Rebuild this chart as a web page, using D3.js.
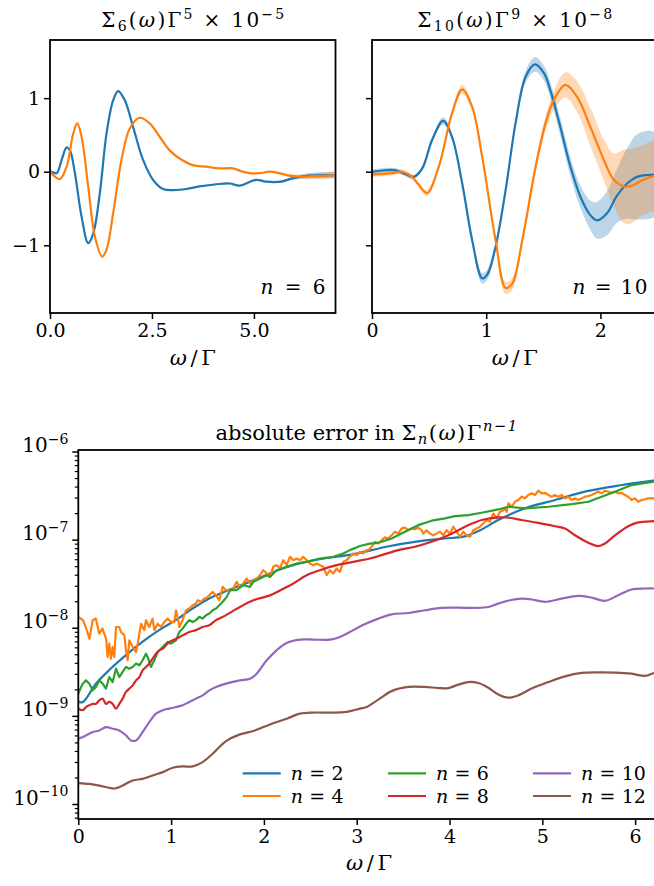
<!DOCTYPE html>
<html><head><meta charset="utf-8">
<script src="https://cdn.jsdelivr.net/npm/d3@7"></script>
<style>
body{margin:0;background:#fff;}
</style></head><body>
<script>
// ---------- data ----------
const colors = ["#1f77b4","#ff7f0e","#2ca02c","#d62728","#9467bd","#8c564b"];

// Sigma_6 * Gamma^5 (x1e-5): [omega/Gamma, value, band half-width]
const sigma6A = [[0,0,0.01],[0.04,0,0.01],[0.163,-0.02,0.01],[0.285,0.16,0.01],[0.408,0.33,0.01],[0.489,0.29,0.01],[0.611,-0.02,0.01],[0.774,-0.61,0.01],[0.937,-0.97,0.01],[1.06,-0.84,0.01],[1.222,-0.29,0.01],[1.386,0.52,0.01],[1.548,0.97,0.01],[1.67,1.095,0.01],[1.834,0.97,0.01],[2.037,0.61,0.01],[2.282,0.16,0.01],[2.526,-0.11,0.01],[2.771,-0.235,0.01],[3.015,-0.25,0.01],[3.341,-0.235,0.01],[3.667,-0.2,0.01],[4.075,-0.17,0.01],[4.401,-0.16,0.01],[4.645,-0.19,0.01],[4.849,-0.15,0.01],[5.053,-0.11,0.01],[5.297,-0.135,0.01],[5.664,-0.135,0.015],[5.949,-0.09,0.02],[6.357,-0.054,0.035],[6.968,-0.045,0.045]];
const sigma6B = [[0,0,0.01],[0.122,-0.067,0.01],[0.245,-0.1,0.01],[0.408,0.068,0.01],[0.57,0.52,0.01],[0.668,0.656,0.01],[0.774,0.475,0.01],[0.937,-0.2,0.01],[1.1,-0.88,0.01],[1.28,-1.153,0.01],[1.386,-1.06,0.01],[1.548,-0.565,0.01],[1.752,0.16,0.01],[1.956,0.588,0.01],[2.2,0.733,0.01],[2.445,0.656,0.01],[2.689,0.475,0.01],[2.934,0.29,0.01],[3.178,0.18,0.01],[3.504,0.09,0.01],[3.83,0.068,0.01],[4.156,0.045,0.01],[4.482,0.045,0.01],[4.727,0,0.01],[4.89,-0.02,0.01],[5.134,-0.02,0.01],[5.379,0,0.01],[5.623,-0.02,0.015],[5.868,-0.054,0.02],[6.112,-0.067,0.03],[6.52,-0.06,0.04],[6.968,-0.045,0.045]];

// Sigma_10 * Gamma^9 (x1e-8)
const sigma10A = [[0,0,0.03],[0.117,0.02,0.03],[0.205,0.02,0.03],[0.29,-0.03,0.03],[0.365,-0.07,0.03],[0.44,0.045,0.03],[0.526,0.43,0.04],[0.623,0.69,0.05],[0.7,0.476,0.04],[0.79,-0.16,0.04],[0.877,-0.93,0.05],[0.965,-1.45,0.07],[1.009,-1.4,0.07],[1.082,-1.02,0.06],[1.17,-0.25,0.05],[1.257,0.66,0.06],[1.345,1.29,0.08],[1.427,1.46,0.1],[1.506,1.34,0.1],[1.561,1.11,0.11],[1.649,0.61,0.12],[1.737,0.07,0.13],[1.825,-0.34,0.15],[1.912,-0.59,0.2],[1.971,-0.66,0.25],[2.06,-0.56,0.3],[2.14,-0.34,0.36],[2.234,-0.16,0.48],[2.32,-0.07,0.58],[2.41,-0.045,0.6],[2.5,-0.04,0.57]];
const sigma10B = [[0,-0.04,0.03],[0.175,-0.02,0.03],[0.263,0,0.03],[0.35,-0.07,0.03],[0.4,-0.16,0.03],[0.482,-0.29,0.04],[0.585,0.07,0.04],[0.7,0.79,0.05],[0.79,1.12,0.06],[0.877,0.88,0.05],[0.965,0.2,0.05],[1.082,-0.93,0.06],[1.17,-1.58,0.08],[1.228,-1.52,0.08],[1.316,-0.93,0.07],[1.433,0.07,0.08],[1.52,0.66,0.1],[1.591,0.97,0.13],[1.693,1.18,0.17],[1.795,1.02,0.21],[1.912,0.61,0.26],[2.03,0.16,0.28],[2.117,-0.11,0.36],[2.205,-0.2,0.5],[2.26,-0.2,0.51],[2.35,-0.13,0.48],[2.44,-0.07,0.48],[2.5,-0.05,0.5]];

// absolute error in Sigma_n * Gamma^(n-1): [omega/Gamma, error]
const err2 = [[0,1.44e-9],[0.05,1.44e-9],[0.19,2.32e-9],[0.33,3.29e-9],[0.51,4.86e-9],[0.69,6.9e-9],[0.87,9.4e-9],[1.05,1.22e-8],[1.23,1.65e-8],[1.41,2.15e-8],[1.57,2.55e-8],[1.89,3.47e-8],[2.25,4.9e-8],[2.6,6.0e-8],[2.96,6.8e-8],[3.32,8.3e-8],[3.68,9.6e-8],[3.95,1.03e-7],[4.15,1.08e-7],[4.33,1.28e-7],[4.54,1.7e-7],[4.83,2.3e-7],[5.14,2.82e-7],[5.48,3.55e-7],[5.86,4.17e-7],[6.2,4.68e-7],[6.283,4.8e-7]];
const err4 = [[0,1.33e-8],[0.05,1.22e-8],[0.08,1.02e-8],[0.12,7.5e-9],[0.155,1.22e-8],[0.19,1.27e-8],[0.225,8.6e-9],[0.26,9.8e-9],[0.3,7.5e-9],[0.316,4.67e-9],[0.334,6.6e-9],[0.352,4.47e-9],[0.37,6.05e-9],[0.388,4.67e-9],[0.406,1.02e-8],[0.44,1.02e-8],[0.46,8.97e-9],[0.496,8.2e-9],[0.514,5.55e-9],[0.532,4.28e-9],[0.55,7.2e-9],[0.586,6.05e-9],[0.622,5.3e-9],[0.64,6.6e-9],[0.676,1.11e-8],[0.711,9.4e-9],[0.729,1.22e-8],[0.765,1.02e-8],[0.8,1.27e-8],[0.82,9.4e-9],[0.855,1.11e-8],[0.89,1.02e-8],[0.927,1.16e-8],[0.963,1.27e-8],[1.0,1.16e-8],[1.035,1.16e-8],[1.053,1.58e-8],[1.07,1.33e-8],[1.088,1.02e-8],[1.124,1.22e-8],[1.16,1.58e-8],[1.196,1.65e-8],[1.232,1.8e-8],[1.268,1.88e-8],[1.286,2.05e-8],[1.322,1.97e-8],[1.358,2.14e-8],[1.394,2.24e-8],[1.43,2.44e-8],[1.448,2.55e-8],[1.484,2.34e-8],[1.52,2.05e-8],[1.556,2.91e-8],[1.59,2.67e-8],[1.635,2.67e-8],[1.671,2.79e-8],[1.706,3.32e-8],[1.742,2.91e-8],[1.778,3.18e-8],[1.814,3.62e-8],[1.85,3.18e-8],[1.886,3.47e-8],[1.922,3.62e-8],[1.958,3.95e-8],[1.994,4.5e-8],[2.03,4.13e-8],[2.065,3.78e-8],[2.1,4.91e-8],[2.137,5.13e-8],[2.173,4.7e-8],[2.209,5.85e-8],[2.245,5.13e-8],[2.281,6.38e-8],[2.317,5.85e-8],[2.353,6.1e-8],[2.389,5.85e-8],[2.424,6.38e-8],[2.46,5.85e-8],[2.496,5.36e-8],[2.532,5.13e-8],[2.568,5.36e-8],[2.604,5.13e-8],[2.64,4.91e-8],[2.676,3.95e-8],[2.712,4.5e-8],[2.748,4.13e-8],[2.783,4.7e-8],[2.819,4.3e-8],[2.855,5.6e-8],[2.891,5.85e-8],[2.927,6.38e-8],[2.963,6.97e-8],[3.0,6.67e-8],[3.035,7.28e-8],[3.071,6.97e-8],[3.107,7.6e-8],[3.125,7.6e-8],[3.161,8.3e-8],[3.197,9.45e-8],[3.233,9.04e-8],[3.269,9.86e-8],[3.305,1.06e-7],[3.34,1.03e-7],[3.376,1.12e-7],[3.412,1.23e-7],[3.448,1.17e-7],[3.484,1.34e-7],[3.52,1.37e-7],[3.556,1.28e-7],[3.592,1.34e-7],[3.628,1.31e-7],[3.663,1.37e-7],[3.699,1.28e-7],[3.717,1.17e-7],[3.753,1.28e-7],[3.789,1.17e-7],[3.825,1.12e-7],[3.861,1.17e-7],[3.897,1.23e-7],[3.933,1.12e-7],[3.969,1.28e-7],[4.005,1.17e-7],[4.041,1.4e-7],[4.077,1.23e-7],[4.113,1.08e-7],[4.149,1.23e-7],[4.185,1.12e-7],[4.221,1.08e-7],[4.257,1.28e-7],[4.292,1.34e-7],[4.328,1.4e-7],[4.364,1.53e-7],[4.4,1.67e-7],[4.436,1.6e-7],[4.472,1.98e-7],[4.508,1.74e-7],[4.544,2.07e-7],[4.58,2.16e-7],[4.598,2.26e-7],[4.616,2.07e-7],[4.634,2.58e-7],[4.67,2.36e-7],[4.706,2.69e-7],[4.741,2.81e-7],[4.777,3.07e-7],[4.813,2.94e-7],[4.849,3.21e-7],[4.885,3.35e-7],[4.921,3.21e-7],[4.957,3.59e-7],[4.993,3.35e-7],[5.029,3.4e-7],[5.065,3.21e-7],[5.101,3.07e-7],[5.136,3.21e-7],[5.172,3.07e-7],[5.208,3.21e-7],[5.244,2.94e-7],[5.28,3.07e-7],[5.316,2.81e-7],[5.352,2.94e-7],[5.388,2.81e-7],[5.424,2.94e-7],[5.46,3.07e-7],[5.496,3.12e-7],[5.531,3.21e-7],[5.567,3.35e-7],[5.603,3.5e-7],[5.639,3.35e-7],[5.675,3.59e-7],[5.711,3.5e-7],[5.747,3.4e-7],[5.783,3.5e-7],[5.819,3.35e-7],[5.855,3.4e-7],[5.891,3.21e-7],[5.926,3.07e-7],[5.962,2.81e-7],[5.998,2.94e-7],[6.034,2.69e-7],[6.07,2.81e-7],[6.106,2.87e-7],[6.142,2.94e-7],[6.178,2.94e-7],[6.214,2.94e-7],[6.283,3.0e-7]];
const err6 = [[0,1.79e-9],[0.047,2.32e-9],[0.083,2.53e-9],[0.119,2.32e-9],[0.155,1.95e-9],[0.191,2.13e-9],[0.226,2.53e-9],[0.262,2.32e-9],[0.298,2.04e-9],[0.334,2.76e-9],[0.37,2.42e-9],[0.406,3.43e-9],[0.442,2.76e-9],[0.478,3.15e-9],[0.514,3.59e-9],[0.55,3.43e-9],[0.586,3.59e-9],[0.622,3.92e-9],[0.658,3.75e-9],[0.693,4.28e-9],[0.729,5.08e-9],[0.747,4.67e-9],[0.783,3.59e-9],[0.819,4.28e-9],[0.855,5.31e-9],[0.891,5.79e-9],[0.927,6.32e-9],[0.963,6.9e-9],[0.999,6.6e-9],[1.053,7.2e-9],[1.088,8.97e-9],[1.124,9.8e-9],[1.16,1.11e-8],[1.196,1.22e-8],[1.232,1.16e-8],[1.268,1.22e-8],[1.304,1.33e-8],[1.34,1.27e-8],[1.376,1.39e-8],[1.412,1.45e-8],[1.448,1.58e-8],[1.484,1.65e-8],[1.52,1.8e-8],[1.556,1.97e-8],[1.6,2.24e-8],[1.635,2.67e-8],[1.706,2.67e-8],[1.778,3.04e-8],[1.85,2.91e-8],[1.886,3.32e-8],[1.958,3.62e-8],[2.03,3.95e-8],[2.065,3.78e-8],[2.137,4.5e-8],[2.245,4.91e-8],[2.353,5.36e-8],[2.46,5.6e-8],[2.604,6.1e-8],[2.748,6.38e-8],[2.855,6.97e-8],[2.927,7.6e-8],[3.035,8.47e-8],[3.142,9.02e-8],[3.233,9.2e-8],[3.376,1.03e-7],[3.52,1.23e-7],[3.663,1.46e-7],[3.807,1.64e-7],[3.951,1.74e-7],[4.059,1.85e-7],[4.203,1.9e-7],[4.346,2.02e-7],[4.526,2.2e-7],[4.634,2.36e-7],[4.813,2.26e-7],[5.065,2.36e-7],[5.316,2.53e-7],[5.496,2.69e-7],[5.639,3.07e-7],[5.783,3.5e-7],[5.962,4.16e-7],[6.203,4.54e-7],[6.283,4.6e-7]];
const err8 = [[0,1.21e-9],[0.047,1.16e-9],[0.083,1.26e-9],[0.119,1.32e-9],[0.155,1.37e-9],[0.191,1.37e-9],[0.226,1.5e-9],[0.262,1.57e-9],[0.298,1.37e-9],[0.334,1.44e-9],[0.37,1.37e-9],[0.406,1.21e-9],[0.442,1.37e-9],[0.478,1.57e-9],[0.514,1.87e-9],[0.55,2.04e-9],[0.586,2.22e-9],[0.622,2.53e-9],[0.658,2.76e-9],[0.693,3.29e-9],[0.729,3.59e-9],[0.765,3.92e-9],[0.801,4.47e-9],[0.837,5.08e-9],[0.873,5.55e-9],[0.909,5.79e-9],[0.945,6.32e-9],[0.981,6.9e-9],[1.017,7.2e-9],[1.053,7.5e-9],[1.124,8.2e-9],[1.196,8.97e-9],[1.268,9.4e-9],[1.34,1.02e-8],[1.412,1.07e-8],[1.484,1.22e-8],[1.592,1.39e-8],[1.706,1.64e-8],[1.886,2.05e-8],[2.065,2.33e-8],[2.173,2.65e-8],[2.317,3.18e-8],[2.46,3.95e-8],[2.604,4.5e-8],[2.783,5.13e-8],[2.963,5.6e-8],[3.142,6.1e-8],[3.269,6.67e-8],[3.448,7.6e-8],[3.628,8.3e-8],[3.807,9.45e-8],[3.987,1.12e-7],[4.167,1.4e-7],[4.346,1.67e-7],[4.526,1.79e-7],[4.65,1.77e-7],[4.777,1.67e-7],[4.957,1.55e-7],[5.136,1.42e-7],[5.244,1.34e-7],[5.352,1.12e-7],[5.496,9.2e-8],[5.603,8.43e-8],[5.675,9.04e-8],[5.783,1.12e-7],[5.926,1.42e-7],[6.034,1.57e-7],[6.203,1.62e-7],[6.283,1.63e-7]];
const err10 = [[0,5.5e-10],[0.083,6.0e-10],[0.155,6.55e-10],[0.226,6.84e-10],[0.298,7.46e-10],[0.37,7.15e-10],[0.442,6.84e-10],[0.514,6.0e-10],[0.568,5.27e-10],[0.622,5.27e-10],[0.693,6.55e-10],[0.765,8.5e-10],[0.837,1.06e-9],[0.909,1.16e-9],[0.981,1.21e-9],[1.053,1.26e-9],[1.124,1.32e-9],[1.196,1.44e-9],[1.268,1.57e-9],[1.34,1.71e-9],[1.412,1.95e-9],[1.484,2.13e-9],[1.592,2.32e-9],[1.742,2.53e-9],[1.85,2.64e-9],[1.922,3.01e-9],[2.03,4.28e-9],[2.137,5.55e-9],[2.245,6.73e-9],[2.389,7.34e-9],[2.532,7.34e-9],[2.712,7.34e-9],[2.819,7.87e-9],[2.963,9.4e-9],[3.09,1.1e-8],[3.233,1.27e-8],[3.376,1.42e-8],[3.556,1.47e-8],[3.735,1.58e-8],[3.915,1.68e-8],[4.095,1.69e-8],[4.274,1.68e-8],[4.418,1.72e-8],[4.526,1.88e-8],[4.65,2.05e-8],[4.78,2.14e-8],[4.88,2.1e-8],[5.029,1.97e-8],[5.208,2.14e-8],[5.388,2.3e-8],[5.531,2.2e-8],[5.675,2.02e-8],[5.819,2.34e-8],[5.962,2.72e-8],[6.106,2.79e-8],[6.203,2.79e-8],[6.283,2.79e-8]];
const err12 = [[0,1.73e-10],[0.119,1.69e-10],[0.226,1.62e-10],[0.334,1.53e-10],[0.388,1.5e-10],[0.478,1.62e-10],[0.586,1.85e-10],[0.693,1.93e-10],[0.801,2.11e-10],[0.909,2.3e-10],[1.017,2.58e-10],[1.124,2.67e-10],[1.232,2.67e-10],[1.34,2.99e-10],[1.448,3.72e-10],[1.52,4.43e-10],[1.592,5.18e-10],[1.742,6.17e-10],[1.886,6.73e-10],[2.065,8.0e-10],[2.245,9.29e-10],[2.389,1.06e-9],[2.532,1.09e-9],[2.712,1.09e-9],[2.891,1.11e-9],[3.035,1.21e-9],[3.1,1.25e-9],[3.233,1.53e-9],[3.376,1.91e-9],[3.556,2.13e-9],[3.735,2.13e-9],[3.879,2.07e-9],[3.987,2.07e-9],[4.095,2.26e-9],[4.203,2.42e-9],[4.31,2.36e-9],[4.418,2.09e-9],[4.526,1.75e-9],[4.634,1.61e-9],[4.741,1.71e-9],[4.885,2.04e-9],[5.065,2.42e-9],[5.244,2.81e-9],[5.424,3.07e-9],[5.603,3.12e-9],[5.783,3.1e-9],[5.962,3.01e-9],[6.106,2.84e-9],[6.203,3.07e-9],[6.283,3.2e-9]];

const orders = [2, 4, 6, 8, 10, 12];
const errSeries = [err2, err4, err6, err8, err10, err12];
const noisy = [false, true, true, false, false, false];

const xTicksLeft = [0, 2.5, 5.0], xTickLabelsLeft = ["0.0", "2.5", "5.0"];
const xTicksRight = [0, 1, 2];
const yTicksTop = [-1, 0, 1];
const xTicksBottom = [0, 1, 2, 3, 4, 5, 6];
const yTicksLog = [1e-10, 1e-9, 1e-8, 1e-7, 1e-6];

// ---------- layout ----------
const W = 654, H = 886;
const FONT = "'DejaVu Serif', serif";
const FS = 19;
const svg = d3.select("body").append("svg").attr("width", W).attr("height", H)
  .style("font-family", FONT);

const xL = d3.scaleLinear([0, 7], [50, 335.5]);
const xR = d3.scaleLinear([0, 2.5], [372, 657.5]);
const yT = d3.scaleLinear([-1.92, 1.79], [313, 40]);
const xB = d3.scaleLinear([0, 2 * Math.PI], [78.3, 661.4]);
const yB = d3.scaleLog([6.76e-11, 1.04e-6], [819, 450]);

function addText(x, y, anchor) {
  return svg.append("text").attr("x", x).attr("y", y).attr("text-anchor", anchor)
    .attr("font-family", FONT).attr("fill", "#000");
}

// rich text: parts are [string, kind] with kind in "", "i", "sup", "sub", "supi", "subi";
// a trailing "m" marks math tokens, which get extra letter spacing
function mathText(sel, parts, size, mathSpacing) {
  let shift = 0;
  parts.forEach(([t, k]) => {
    const ts = sel.append("tspan").text(t);
    let target = 0, fs = size;
    if (k.includes("sup")) { target = -0.42 * size; fs = 0.7 * size; }
    if (k.includes("sub")) { target = 0.2 * size; fs = 0.7 * size; }
    ts.attr("dy", target - shift).attr("font-size", fs);
    if (k.includes("i")) ts.attr("font-style", "italic");
    if (k.includes("m") && mathSpacing) ts.attr("letter-spacing", mathSpacing);
    shift = target;
  });
  return sel;
}

// stretch the spacing of a text so it spans a given width
function spread(sel, width) {
  return sel.attr("textLength", width).attr("lengthAdjust", "spacing");
}

function clip(id, x0, y0, x1, y1) {
  svg.append("clipPath").attr("id", id).append("rect")
    .attr("x", x0).attr("y", y0).attr("width", x1 - x0).attr("height", y1 - y0);
}

function styleAxis(g) {
  g.attr("font-family", FONT);
  g.select(".domain").remove();
  g.selectAll(".tick line").attr("stroke", "#000").attr("stroke-width", 1.5);
  g.selectAll(".tick text").attr("font-size", FS).attr("fill", "#000").attr("font-family", FONT);
}

const SP = "\u2004";

// ---------- top panels ----------
function topPanel(id, xs, seriesList, x0, x1, ticks, tickFmt, showY, label, labelW, title, titleW) {
  clip(id, x0, 40, x1, 313);
  const g = svg.append("g").attr("clip-path", `url(#${id})`);
  const line = d3.line().x(d => xs(d[0])).y(d => yT(d[1])).curve(d3.curveCatmullRom.alpha(0.5));
  const area = d3.area().x(d => xs(d[0])).y0(d => yT(d[1] - d[2])).y1(d => yT(d[1] + d[2])).curve(d3.curveCatmullRom.alpha(0.5));
  seriesList.forEach((s, i) => {
    g.append("path").attr("d", area(s)).attr("fill", colors[i]).attr("fill-opacity", 0.3).attr("stroke", "none");
  });
  seriesList.forEach((s, i) => {
    g.append("path").attr("d", line(s)).attr("fill", "none").attr("stroke", colors[i]).attr("stroke-width", 2.2);
  });
  const ax = svg.append("g").attr("transform", "translate(0,313)")
    .call(d3.axisBottom(xs).tickValues(ticks).tickFormat(tickFmt).tickSize(6).tickPadding(5));
  styleAxis(ax);
  const ay = svg.append("g").attr("transform", `translate(${x0},0)`)
    .call(d3.axisLeft(yT).tickValues(yTicksTop).tickFormat(showY ? (d => d < 0 ? "\u2212" + (-d) : String(d)) : "").tickSize(6).tickPadding(4));
  styleAxis(ay);
  svg.append("rect").attr("x", x0).attr("y", 40).attr("width", x1 - x0).attr("height", 273)
    .attr("fill", "none").attr("stroke", "#000").attr("stroke-width", 1.8);
  spread(mathText(addText(x1 - 10, 294, "end"), label, 20), labelW);
  spread(mathText(addText((x0 + x1) / 2, 27, "middle"), title, 20), titleW);
  spread(mathText(addText((x0 + x1) / 2, 365, "middle"), [["\u03c9", "i"], ["/\u0393", ""]], 21), 46);
}

topPanel("cL", xL, [sigma6A, sigma6B], 50, 335.5, xTicksLeft, (d, i) => xTickLabelsLeft[i], true,
  [["n", "i"], [SP + "=" + SP + "6", ""]], 65,
  [["\u03a3", ""], ["6", "sub"], ["(", ""], ["\u03c9", "i"], [")\u0393", ""], ["5", "sup"], [SP + "\u00d7" + SP + "10", ""], ["\u22125", "sup"]], 183);
topPanel("cR", xR, [sigma10A, sigma10B], 372, 657.5, xTicksRight, d => String(d), false,
  [["n", "i"], [SP + "=" + SP + "10", ""]], 75,
  [["\u03a3", ""], ["10", "sub"], ["(", ""], ["\u03c9", "i"], [")\u0393", ""], ["9", "sup"], [SP + "\u00d7" + SP + "10", ""], ["\u22128", "sup"]], 195);

// ---------- bottom panel ----------
clip("cB", 78.3, 450, 661.4, 819);
const gB = svg.append("g").attr("clip-path", "url(#cB)");
const smoothLine = d3.line().x(d => xB(d[0])).y(d => yB(d[1])).curve(d3.curveCatmullRom.alpha(0.5));
const rawLine = d3.line().x(d => xB(d[0])).y(d => yB(d[1]));
errSeries.forEach((s, i) => {
  gB.append("path").attr("d", (noisy[i] ? rawLine : smoothLine)(s))
    .attr("fill", "none").attr("stroke", colors[i]).attr("stroke-width", 2.2)
    .attr("stroke-linejoin", "round");
});

const axB = svg.append("g").attr("transform", "translate(0,819)")
  .call(d3.axisBottom(xB).tickValues(xTicksBottom).tickFormat(d => String(d)).tickSize(6).tickPadding(5));
styleAxis(axB);

// minor log ticks
const minorVals = [];
for (let e = -11; e <= -6; e++) for (let m = 2; m <= 9; m++) {
  const v = m * Math.pow(10, e);
  if (v >= 6.76e-11 && v <= 1.04e-6) minorVals.push(v);
}
const ayMinor = svg.append("g").attr("transform", "translate(78.3,0)")
  .call(d3.axisLeft(yB).tickValues(minorVals).tickFormat("").tickSize(3.5));
styleAxis(ayMinor);
ayMinor.selectAll(".tick line").attr("stroke-width", 1.2);

const ayB = svg.append("g").attr("transform", "translate(78.3,0)")
  .call(d3.axisLeft(yB).tickValues(yTicksLog).tickFormat("").tickSize(6).tickPadding(4));
styleAxis(ayB);
ayB.selectAll(".tick text").each(function (d) {
  const t = d3.select(this).text(null);
  mathText(t, [["10", ""], ["\u2212" + Math.round(-Math.log10(d)), "sup"]], 20);
});

svg.append("rect").attr("x", 78.3).attr("y", 450).attr("width", 661.4 - 78.3).attr("height", 369)
  .attr("fill", "none").attr("stroke", "#000").attr("stroke-width", 1.8);

mathText(addText(367, 440, "middle"),
  [["absolute error in ", ""], ["\u03a3", "m"], ["n", "subim"], ["(", "m"], ["\u03c9", "im"], [")\u0393", "m"], ["n\u22121", "supim"]], 21, 1.5);
spread(mathText(addText(369, 870, "middle"), [["\u03c9", "i"], ["/\u0393", ""]], 21), 46);

// legend: three columns, two rows
const legCols = [242.7, 388, 533], legRows = [773.3, 796];
orders.forEach((n, i) => {
  const cx = legCols[Math.floor(i / 2)], cy = legRows[i % 2];
  svg.append("line").attr("x1", cx).attr("x2", cx + 38).attr("y1", cy).attr("y2", cy)
    .attr("stroke", colors[i]).attr("stroke-width", 2.2);
  mathText(addText(cx + 48, cy + 7, "start"), [["n", "i"], [SP + "=" + SP + n, ""]], 19);
});
</script></body></html>
